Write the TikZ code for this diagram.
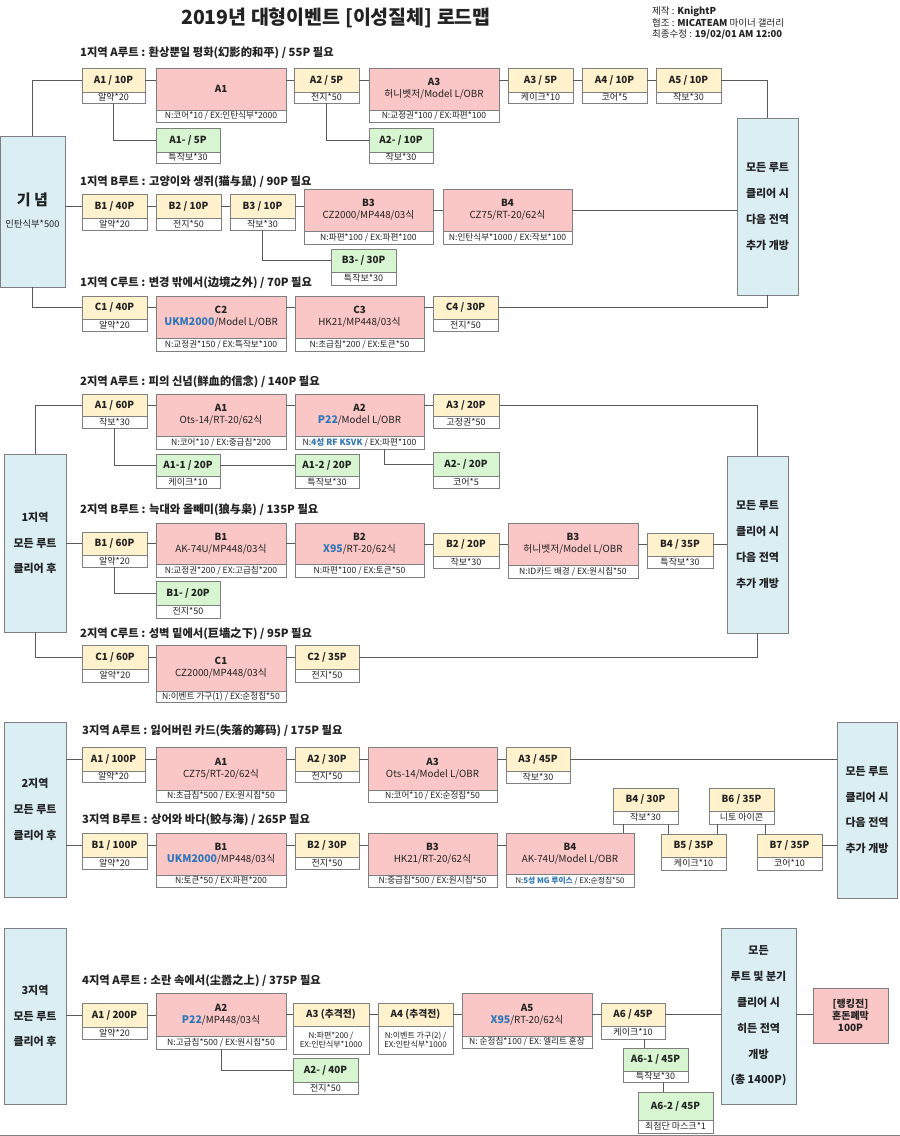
\documentclass[tikz,border=0pt]{standalone}
\usepackage{fontspec}
\setmainfont{Noto Sans CJK KR}
\definecolor{yel}{HTML}{FFF2CC}
\definecolor{pnk}{HTML}{FAC6C6}
\definecolor{grn}{HTML}{D6F5D0}
\definecolor{lbl}{HTML}{DAEEF3}
\definecolor{brd}{HTML}{7F7F7F}
\definecolor{lin}{HTML}{5A5A5A}
\definecolor{bluetxt}{HTML}{2E75B6}
\definecolor{txt}{HTML}{222222}
\tikzset{
 boxbase/.style={draw=brd,line width=0.7pt,inner sep=0pt,outer sep=0pt,align=center,text=txt},
 yelh/.style={boxbase,fill=yel,font=\bfseries\fontsize{9.8}{11}\selectfont},
 yels/.style={boxbase,fill=white,font=\fontsize{9}{10}\selectfont},
 yelxh/.style={yelh},
 yelxs/.style={boxbase,fill=white,font=\fontsize{8}{9.5}\selectfont},
 pinh/.style={boxbase,fill=pnk,font=\fontsize{9.8}{12}\selectfont},
 pins/.style={boxbase,fill=white,font=\fontsize{8.6}{9.5}\selectfont},
 grnh/.style={boxbase,fill=grn,font=\bfseries\fontsize{9.8}{11}\selectfont},
 grns/.style={boxbase,fill=white,font=\fontsize{9}{10}\selectfont},
 sidebox/.style={boxbase,fill=lbl,anchor=north west},
 sidetext/.style={inner sep=0pt,align=center,text=txt,font=\bfseries\fontsize{11}{25.8}\selectfont},
 conn/.style={draw=lin,line width=0.8pt},
 sectitle/.style={anchor=west,inner sep=0pt,text=txt,font=\bfseries\fontsize{11.3}{12}\selectfont},
 infotext/.style={anchor=west,inner sep=0pt,text=txt,font=\fontsize{9.5}{10}\selectfont},
}
\newcommand{\itm}[9]{%
 \node[#7h,anchor=north west,minimum width=#4pt,minimum height=#5pt] (#1) at (#2,#3) {#8};
 \node[#7s,anchor=north,minimum width=#4pt,minimum height=#6pt] (#1s) at (#1.south) {#9};}
\newcommand{\bigblue}[1]{{\bfseries\fontsize{10.5}{12}\selectfont\color{bluetxt}#1}}
\newcommand{\smblue}[1]{{\bfseries\color{bluetxt}#1}}
\begin{document}
\begin{tikzpicture}[x=1pt,y=-1pt]
\fill[white] (0,0) rectangle (900,1136);
\path[use as bounding box] (0,0) rectangle (900,1136);

% header
\node[text=txt,font=\bfseries\fontsize{19.5}{21}\selectfont] (title) at (336,18) {2019년 대형이벤트 [이성질체] 로드맵};
\node[infotext] (info1) at (652,12) {제작 : \textbf{KnightP}};
\node[infotext] (info2) at (652,23) {협조 : \textbf{MICATEAM} 마이너 갤러리};
\node[infotext] (info3) at (652,34) {최종수정 : \textbf{19/02/01 AM 12:00}};

% section titles
\node[sectitle] (t1a) at (80,53) {1지역 A루트 : 환상뿐일 평화(幻影的和平) / 55P 필요};
\node[sectitle] (t1b) at (80,182) {1지역 B루트 : 고양이와 생쥐(猫与鼠) / 90P 필요};
\node[sectitle] (t1c) at (80,283) {1지역 C루트 : 변경 밖에서(边境之外) / 70P 필요};
\node[sectitle] (t2a) at (80,382) {2지역 A루트 : 피의 신념(鲜血的信念) / 140P 필요};
\node[sectitle] (t2b) at (80,510) {2지역 B루트 : 늑대와 올빼미(狼与枭) / 135P 필요};
\node[sectitle] (t2c) at (80,634) {2지역 C루트 : 성벽 밑에서(巨墙之下) / 95P 필요};
\node[sectitle] (t3a) at (82,731) {3지역 A루트 : 잃어버린 카드(失落的筹码) / 175P 필요};
\node[sectitle] (t3b) at (82,820) {3지역 B루트 : 상어와 바다(鲛与海) / 265P 필요};
\node[sectitle] (t4a) at (82,981) {4지역 A루트 : 소란 속에서(尘嚣之上) / 375P 필요};

% side boxes
\node[sidebox,minimum width=64.5pt,minimum height=151pt] (K) at (0.5,136) {};
\node[text=txt,inner sep=0pt,font=\bfseries\fontsize{15}{16}\selectfont] (Kt1) at (32.5,200) {기 념};
\node[text=txt,inner sep=0pt,font=\fontsize{9.3}{10}\selectfont] (Kt2) at (32.5,224) {인탄식부*500};
\node[sidebox,minimum width=61pt,minimum height=177pt] (R1) at (737,118) {};
\node[sidetext] (R1t) at (R1.center) {모든 루트\\클리어 시\\다음 전역\\추가 개방};
\node[sidebox,minimum width=62pt,minimum height=178pt] (L1) at (4,454) {};
\node[sidetext] (L1t) at (L1.center) {1지역\\모든 루트\\클리어 후};
\node[sidebox,minimum width=61pt,minimum height=177pt] (R2) at (727,456) {};
\node[sidetext] (R2t) at (R2.center) {모든 루트\\클리어 시\\다음 전역\\추가 개방};
\node[sidebox,minimum width=62pt,minimum height=175pt] (L2) at (4,722) {};
\node[sidetext] (L2t) at (L2.center) {2지역\\모든 루트\\클리어 후};
\node[sidebox,minimum width=60pt,minimum height=176pt] (R3) at (837,722) {};
\node[sidetext] (R3t) at (R3.center) {모든 루트\\클리어 시\\다음 전역\\추가 개방};
\node[sidebox,minimum width=62pt,minimum height=176pt] (L3) at (4,928) {};
\node[sidetext] (L3t) at (L3.center) {3지역\\모든 루트\\클리어 후};
\node[sidebox,minimum width=75pt,minimum height=176pt] (BIG) at (721,928) {};
\node[sidetext] (BIGt) at (BIG.center) {모든\\루트 및 분기\\클리어 시\\히든 전역\\개방\\(총 1400P)};
\node[boxbase,fill=pnk,anchor=north west,minimum width=75pt,minimum height=55pt,font=\bfseries\fontsize{10}{12}\selectfont] (FIN) at (813,988) {[랭킹전]\\혼돈폐막\\100P};

% ---------- section 1 ----------
\itm{aA1}{82}{68}{63}{24}{11}{yel}{A1 / 10P}{알약*20}
\itm{aA1p}{156}{68}{130}{42}{12}{pin}{\textbf{A1}}{N:코어*10 / EX:인탄식부*2000}
\itm{aA2}{294}{68}{65}{24}{11}{yel}{A2 / 5P}{전지*50}
\itm{aA3p}{369}{68}{130}{42}{12}{pin}{\textbf{A3}\\허니벳저/Model L/OBR}{N:교정권*100 / EX:파편*100}
\itm{aA3}{508}{68}{65}{24}{11}{yel}{A3 / 5P}{케이크*10}
\itm{aA4}{582}{68}{65}{24}{11}{yel}{A4 / 10P}{코어*5}
\itm{aA5}{656}{68}{65}{24}{11}{yel}{A5 / 10P}{작보*30}
\itm{aA1m}{156}{128}{64}{24}{11}{grn}{A1- / 5P}{특작보*30}
\itm{aA2m}{369}{128}{64}{24}{11}{grn}{A2- / 10P}{작보*30}

\itm{aB1}{82}{194}{65}{24}{12}{yel}{B1 / 40P}{알약*20}
\itm{aB2}{156}{194}{65}{24}{12}{yel}{B2 / 10P}{전지*50}
\itm{aB3}{230}{194}{65}{24}{12}{yel}{B3 / 10P}{작보*30}
\itm{aB3p}{304}{189}{129}{42}{13}{pin}{\textbf{B3}\\CZ2000/MP448/03식}{N:파편*100 / EX:파편*100}
\itm{aB4p}{443}{189}{129}{42}{13}{pin}{\textbf{B4}\\CZ75/RT-20/62식}{N:인탄식부*1000 / EX:작보*100}
\itm{aB3m}{331}{249}{65}{23}{13}{grn}{B3- / 30P}{특작보*30}

\itm{aC1}{82}{296}{65}{23}{12}{yel}{C1 / 40P}{알약*20}
\itm{aC2p}{156}{296}{130}{42}{13}{pin}{\textbf{C2}\\\bigblue{UKM2000}/Model L/OBR}{N:교정권*150 / EX:특작보*100}
\itm{aC3p}{295}{296}{129}{42}{13}{pin}{\textbf{C3}\\HK21/MP448/03식}{N:초급칩*200 / EX:토큰*50}
\itm{aC4}{433}{296}{65}{23}{12}{yel}{C4 / 30P}{전지*50}

\draw[conn] (K.north) |- (aA1.west);
\draw[conn] (aA1.east) -- (aA1.east -| aA1p.west);
\draw[conn] (aA1p.east |- aA1.east) -- (aA2.west);
\draw[conn] (aA2.east) -- (aA2.east -| aA3p.west);
\draw[conn] (aA3p.east |- aA3.west) -- (aA3.west);
\draw[conn] (aA3.east) -- (aA4.west);
\draw[conn] (aA4.east) -- (aA5.west);
\draw[conn] (aA5.east) -| (R1.north);
\draw[conn] (aA1s.south) |- (aA1m.west);
\draw[conn] (aA2s.south) |- (aA2m.west);

\draw[conn] (aB1.west -| K.east) -- (aB1.west);
\draw[conn] (aB1.east) -- (aB2.west);
\draw[conn] (aB2.east) -- (aB3.west);
\draw[conn] (aB3.east) -- (aB3.east -| aB3p.west);
\draw[conn] (aB3p.east) -- (aB4p.west);
\draw[conn] (aB4p.east) -- (aB4p.east -| R1.west);
\draw[conn] (aB3s.south) |- (aB3m.west);

\draw[conn] (K.south) |- (aC1.west);
\draw[conn] (aC1.east) -- (aC1.east -| aC2p.west);
\draw[conn] (aC2p.east |- aC1.east) -- (aC3p.west |- aC1.east);
\draw[conn] (aC3p.east |- aC4.west) -- (aC4.west);
\draw[conn] (aC4.east) -| (R1.south);

% ---------- section 2 ----------
\itm{bA1}{82}{394}{65}{22}{12}{yel}{A1 / 60P}{작보*30}
\itm{bA1p}{156}{394}{130}{42}{13}{pin}{\textbf{A1}\\Ots-14/RT-20/62식}{N:코어*10 / EX:중급칩*200}
\itm{bA2p}{295}{394}{129}{42}{13}{pin}{\textbf{A2}\\\bigblue{P22}/Model L/OBR}{N:\smblue{4성 RF KSVK} / EX:파편*100}
\itm{bA3}{433}{394}{66}{22}{12}{yel}{A3 / 20P}{고정권*50}
\itm{bA11}{156}{454}{64}{22}{12}{grn}{A1-1 / 20P}{케이크*10}
\itm{bA12}{295}{454}{64}{22}{12}{grn}{A1-2 / 20P}{특작보*30}
\itm{bA2m}{433}{452}{66}{24}{12}{grn}{A2- / 20P}{코어*5}

\itm{bB1}{82}{532}{65}{23}{12}{yel}{B1 / 60P}{알약*20}
\itm{bB1p}{156}{523}{130}{41}{13}{pin}{\textbf{B1}\\AK-74U/MP448/03식}{N:교정권*200 / EX:고급칩*200}
\itm{bB2p}{295}{523}{129}{41}{13}{pin}{\textbf{B2}\\\bigblue{X95}/RT-20/62식}{N:파편*100 / EX:토큰*50}
\itm{bB2}{433}{533}{66}{23}{12}{yel}{B2 / 20P}{작보*30}
\itm{bB3p}{508}{523}{130}{42}{13}{pin}{\textbf{B3}\\허니벳저/Model L/OBR}{N:ID카드 배경 / EX:원시칩*50}
\itm{bB4}{647}{533}{66}{23}{12}{yel}{B4 / 35P}{특작보*30}
\itm{bB1m}{156}{581}{64}{24}{13}{grn}{B1- / 20P}{전지*50}

\itm{bC1}{82}{645}{66}{24}{13}{yel}{C1 / 60P}{알약*20}
\itm{bC1p}{156}{645}{130}{46}{11}{pin}{\textbf{C1}\\CZ2000/MP448/03식}{N:이벤트 가구(1) / EX:순정칩*50}
\itm{bC2}{295}{645}{64}{24}{13}{yel}{C2 / 35P}{전지*50}

\coordinate (j0) at ([xshift=25pt]bA2ps.south);
\draw[conn] (L1.north) |- (bA1.west);
\draw[conn] (bA1.east) -- (bA1.east -| bA1p.west);
\draw[conn] (bA1p.east |- bA1.east) -- (bA2p.west |- bA1.east);
\draw[conn] (bA2p.east |- bA3.west) -- (bA3.west);
\draw[conn] (bA3.east) -| (R2.north);
\draw[conn] (bA1s.south) |- (bA11.west);
\draw[conn] (bA11.east) -- (bA12.west);
\draw[conn] (j0) |- (bA2m.west);

\draw[conn] (bB1.west -| L1.east) -- (bB1.west);
\draw[conn] (bB1.east) -- (bB1.east -| bB1p.west);
\draw[conn] (bB1p.east |- bB1.east) -- (bB2p.west |- bB1.east);
\draw[conn] (bB2p.east |- bB2.west) -- (bB2.west);
\draw[conn] (bB2.east) -- (bB2.east -| bB3p.west);
\draw[conn] (bB3p.east |- bB4.west) -- (bB4.west);
\draw[conn] (bB4.east) -- (bB4.east -| R2.west);
\draw[conn] (bB1s.south) |- (bB1m.west);

\draw[conn] (L1.south) |- (bC1.west);
\draw[conn] (bC1.east) -- (bC1.east -| bC1p.west);
\draw[conn] (bC1p.east |- bC2.west) -- (bC2.west);
\draw[conn] (bC2.east) -| (R2.south);

% ---------- section 3 ----------
\itm{cA1}{82}{747}{63}{24}{11}{yel}{A1 / 100P}{알약*20}
\itm{cA1p}{156}{747}{130}{43}{12}{pin}{\textbf{A1}\\CZ75/RT-20/62식}{N:초급칩*500 / EX:원시칩*50}
\itm{cA2}{295}{747}{64}{24}{11}{yel}{A2 / 30P}{전지*50}
\itm{cA3p}{368}{747}{129}{43}{12}{pin}{\textbf{A3}\\Ots-14/Model L/OBR}{N:코어*10 / EX:순정칩*50}
\itm{cA3}{506}{747}{64}{24}{12}{yel}{A3 / 45P}{작보*30}

\itm{cB1}{82}{833}{65}{24}{12}{yel}{B1 / 100P}{알약*20}
\itm{cB1p}{156}{833}{130}{42}{12}{pin}{\textbf{B1}\\\bigblue{UKM2000}/MP448/03식}{N:토큰*50 / EX:파편*200}
\itm{cB2}{295}{833}{64}{24}{12}{yel}{B2 / 30P}{전지*50}
\itm{cB3p}{368}{833}{129}{42}{12}{pin}{\textbf{B3}\\HK21/RT-20/62식}{N:중급칩*500 / EX:원시칩*50}
\itm{cB4p}{506}{833}{128}{41}{13}{pin}{\textbf{B4}\\AK-74U/Model L/OBR}{\fontsize{7.8}{8.5}\selectfont N:\smblue{5성 MG 루이스} / EX:순정칩*50}
\itm{cB4}{613}{788}{65}{23}{13}{yel}{B4 / 30P}{작보*30}
\itm{cB5}{661}{834}{65}{23}{13}{yel}{B5 / 35P}{케이크*10}
\itm{cB6}{709}{788}{65}{23}{13}{yel}{B6 / 35P}{니토 아이콘}
\itm{cB7}{757}{834}{65}{23}{13}{yel}{B7 / 35P}{코어*10}

\draw[conn] (cA1.west -| L2.east) -- (cA1.west);
\draw[conn] (cA1.east) -- (cA1.east -| cA1p.west);
\draw[conn] (cA1p.east |- cA2.west) -- (cA2.west);
\draw[conn] (cA2.east) -- (cA2.east -| cA3p.west);
\draw[conn] (cA3p.east |- cA3.west) -- (cA3.west);
\draw[conn] (cA3.east) -- (cA3.east -| R3.west);

\coordinate (j1) at ([xshift=-22pt]cB4s.south);
\coordinate (j2) at ([xshift=23pt]cB4s.south);
\coordinate (j3) at ([xshift=24pt]cB5.north);
\coordinate (j4) at ([xshift=24pt]cB6s.south);
\draw[conn] (cB1.west -| L2.east) -- (cB1.west);
\draw[conn] (cB1.east) -- (cB1.east -| cB1p.west);
\draw[conn] (cB1p.east |- cB2.west) -- (cB2.west);
\draw[conn] (cB2.east) -- (cB2.east -| cB3p.west);
\draw[conn] (cB3p.east |- cB2.east) -- (cB4p.west |- cB2.east);
\draw[conn] (j1) -- (j1 |- cB4p.north);
\draw[conn] (j2) -- (j2 |- cB5.north);
\draw[conn] (j3) -- (j3 |- cB6s.south);
\draw[conn] (j4) -- (j4 |- cB7.north);
\draw[conn] (cB7.east) -- (cB7.east -| R3.west);

% ---------- section 4 ----------
\itm{dA1}{82}{1003}{65}{24}{12}{yel}{A1 / 200P}{알약*20}
\itm{dA2p}{156}{993}{130}{43}{13}{pin}{\textbf{A2}\\\bigblue{P22}/MP448/03식}{N:고급칩*500 / EX:원시칩*50}
\itm{dA3}{293}{1003}{76}{23}{28}{yelx}{A3 (추격전)}{N:파편*200 /\\EX:인탄식부*1000}
\itm{dA4}{378}{1003}{75}{23}{28}{yelx}{A4 (추격전)}{N:이벤트 가구(2) /\\EX:인탄식부*1000}
\itm{dA5p}{462}{993}{130}{43}{12}{pin}{\textbf{A5}\\\bigblue{X95}/RT-20/62식}{N: 순정칩*100 / EX: 엘리트 훈장}
\itm{dA6}{601}{1003}{64}{23}{13}{yel}{A6 / 45P}{케이크*10}
\itm{dA2m}{293}{1058}{65}{24}{12}{grn}{A2- / 40P}{전지*50}
\itm{dA61}{623}{1048}{65}{23}{11}{grn}{A6-1 / 45P}{특작보*30}
\itm{dA62}{638}{1092}{75}{28}{13}{grn}{A6-2 / 45P}{최첨단 마스크*1}

\coordinate (j5) at ([xshift=11pt]dA6s.south);
\coordinate (j6) at ([xshift=7.5pt]dA61s.south);
\draw[conn] (dA1.west -| L3.east) -- (dA1.west);
\draw[conn] (dA1.east) -- (dA1.east -| dA2p.west);
\draw[conn] (dA2p.east |- dA3.west) -- (dA3.west);
\draw[conn] (dA3.east) -- (dA4.west);
\draw[conn] (dA4.east) -- (dA4.east -| dA5p.west);
\draw[conn] (dA5p.east |- dA6.west) -- (dA6.west);
\draw[conn] (dA6.east) -- (dA6.east -| BIG.west);
\draw[conn] (dA6.east -| BIG.east) -- (dA6.east -| FIN.west);
\draw[conn] (dA2ps.south) |- (dA2m.west);
\draw[conn] (j5) -- (j5 |- dA61.north);
\draw[conn] (j6) -- (j6 |- dA62.north);

% bottom rule
\draw[draw=brd,line width=1pt] (0,1135) -- (900,1135);
\end{tikzpicture}
\end{document}
